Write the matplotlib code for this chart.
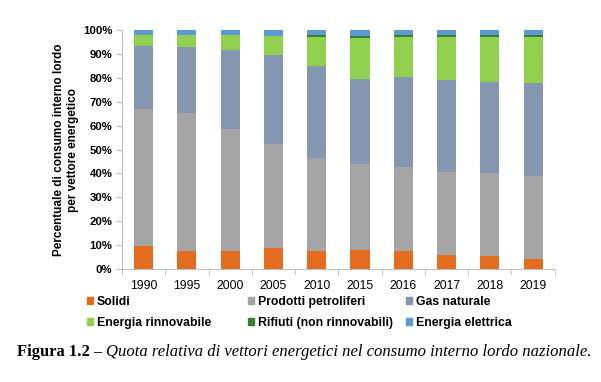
import matplotlib.pyplot as plt
import numpy as np
from matplotlib.patches import Patch

plt.rcParams['font.family'] = ['Liberation Sans', 'DejaVu Sans']

anni = ['1990', '1995', '2000', '2005', '2010', '2015', '2016', '2017', '2018', '2019']
solidi = [9.8, 7.7, 7.3, 8.8, 7.7, 8.0, 7.3, 5.7, 5.3, 4.2]
petroliferi = [57.2, 57.6, 51.3, 43.6, 38.6, 36.1, 35.5, 34.7, 34.8, 34.7]
gas = [26.3, 27.7, 33.3, 37.4, 38.6, 35.5, 37.5, 38.6, 38.1, 39.0]
rinnovabile = [4.6, 4.9, 5.9, 7.7, 12.3, 17.0, 16.9, 18.2, 18.9, 19.3]
rifiuti = [0.0, 0.0, 0.0, 0.2, 0.6, 0.9, 0.7, 0.7, 0.7, 0.7]
elettrica = [2.1, 2.1, 2.2, 2.3, 2.2, 2.5, 2.1, 2.1, 2.2, 2.1]

serie = [
    ('Solidi', solidi, '#E36C1E'),
    ('Prodotti petroliferi', petroliferi, '#A5A5A5'),
    ('Gas naturale', gas, '#8496B0'),
    ('Energia rinnovabile', rinnovabile, '#92D050'),
    ('Rifiuti (non rinnovabili)', rifiuti, '#3E7D2E'),
    ('Energia elettrica', elettrica, '#5B9BD5'),
]

fig = plt.figure(figsize=(6.01, 3.82), dpi=100)
ax = fig.add_axes([0.203, 0.296, 0.72, 0.625])

x = np.arange(len(anni))
base = np.zeros(len(anni))
for nome, valori, colore in serie:
    ax.bar(x, valori, width=0.44, bottom=base, color=colore, label=nome)
    base += np.array(valori)

ax.set_xlim(-0.5, len(anni) - 0.5)
ax.set_ylim(0, 100)
ax.set_yticks(np.arange(0, 101, 10))
ax.set_yticklabels([f'{v}%' for v in range(0, 101, 10)], fontweight='bold', fontsize=8.2)
ax.set_xticks(x)
ax.set_xticklabels(anni, fontsize=8.8)
ax.set_xticks(np.arange(-0.5, len(anni), 1), minor=True)
ax.tick_params(axis='x', which='major', length=0, pad=8)
ax.tick_params(axis='x', which='minor', length=4, color='#BFBFBF', direction='out')
ax.tick_params(axis='y', length=4, color='#BFBFBF', direction='out', pad=3)
for s in ['top', 'right']:
    ax.spines[s].set_visible(False)
ax.spines['left'].set_color('#BFBFBF')
ax.spines['bottom'].set_color('#BFBFBF')

ax.set_ylabel('Percentuale di consumo interno lordo\nper vettore energetico',
              fontweight='bold', fontsize=8.5, labelpad=3, linespacing=1.15)

# legenda su tre colonne, due righe
xs = [0.145, 0.413, 0.676]
for i, xc in enumerate(xs):
    h = [Patch(color=serie[j][2], label=serie[j][0]) for j in (i, i + 3)]
    fig.legend(handles=h, loc='upper left', bbox_to_anchor=(xc, 0.225), frameon=False,
               prop={'weight': 'bold', 'size': 8.8}, handlelength=0.5, handleheight=0.5,
               handletextpad=0.3, labelspacing=0.7, borderaxespad=0, borderpad=0)

t1 = fig.text(0.028, 0.058, 'Figura 1.2 \u2013 ', fontfamily='Liberation Serif', fontweight='bold',
              fontsize=12, va='bottom')
fig.add_artist(plt.Annotation('Quota relativa di vettori energetici nel consumo interno lordo nazionale.',
                              xy=(1, 0), xycoords=t1, va='bottom', ha='left',
                              fontfamily='Liberation Serif', fontstyle='italic', fontsize=12))

fig.savefig('out.png', dpi=100)
